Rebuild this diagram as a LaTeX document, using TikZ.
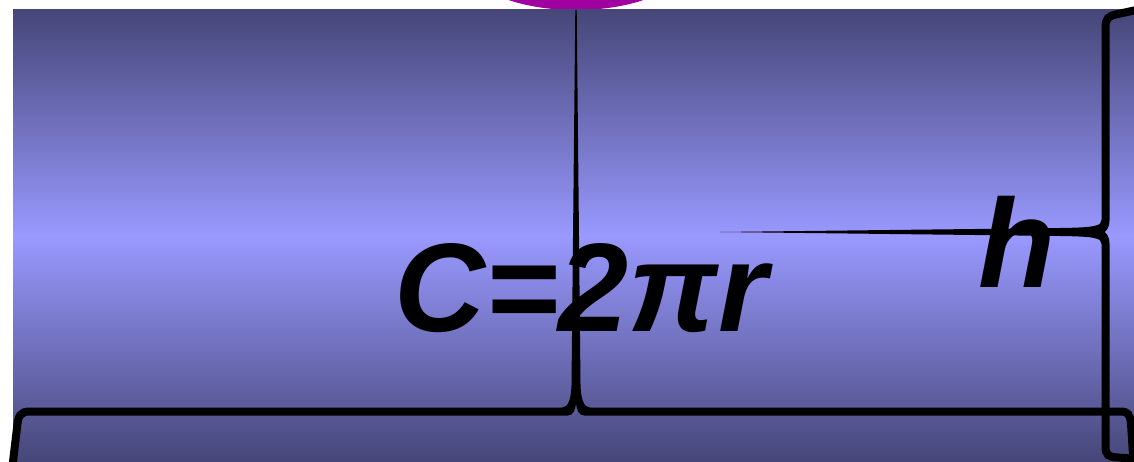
\documentclass[tikz,border=0pt]{standalone}
\usepackage{fontspec}
\setmainfont{Liberation Sans}
\definecolor{dark}{RGB}{70,70,120}
\definecolor{light}{RGB}{153,153,255}
\definecolor{purp}{RGB}{160,0,160}
\tikzset{
  bracestroke/.style={line width=8pt, draw=black},
  bracefill/.style={fill=black, draw=none},
  bigtext/.style={font=\fontsize{126}{126}\selectfont\bfseries\itshape, inner sep=0pt}
}
\begin{document}
\begin{tikzpicture}[x=1pt,y=-1pt]
\useasboundingbox (0,0) rectangle (1134,462);
\clip (0,0) rectangle (1134,462);
\fill[white] (0,0) rectangle (1134,462);
% purple ellipse (top)
\fill[purp] (576,-30) ellipse [x radius=102pt, y radius=40pt];
% unrolled surface
\shade[top color=dark, bottom color=dark, middle color=light] (13,10) rectangle (1150,462);
% bottom brace (circumference)
\draw[bracestroke] (12,470) -- (17,428) .. controls (18,416) and (20,411.5) .. (30,411.5) -- (562,411.5);
\draw[bracestroke] (590,411.5) -- (1120,411.5) .. controls (1128,411.5) and (1130,414) .. (1131,424) -- (1134,470);
\fill[bracefill] (575.3,10) -- (571.5,385) .. controls (571,400) and (568,407.5) .. (562,407.5) -- (562,415.5) -- (568,415.5) .. controls (573,415.5) and (575.5,410) .. (576,403) .. controls (576.5,410) and (579,415.5) .. (584,415.5) -- (590,415.5) -- (590,407.5) .. controls (584,407.5) and (581,400) .. (580.5,385) -- (576.7,10) -- cycle;
% right brace (height)
\draw[bracestroke] (1150,7) -- (1118,14) .. controls (1108,16) and (1105.5,18) .. (1105.5,28) -- (1105.5,220);
\draw[bracestroke] (1105.5,244) -- (1105.5,446) .. controls (1105.5,455) and (1108,457) .. (1118,457.5) -- (1150,460);
\fill[bracefill] (720,232) -- (1060,228) .. controls (1095,227.5) and (1101.5,226) .. (1101.5,220) -- (1109.5,220) .. controls (1109.5,228) and (1106,231) .. (1104.5,232) .. controls (1106,233) and (1109.5,236) .. (1109.5,244) -- (1101.5,244) .. controls (1101.5,238) and (1095,236.5) .. (1060,236) -- cycle;
% labels
\node[bigtext, anchor=base] (circ) at (581,331) {C=2πr};
\node[bigtext, anchor=base] (height) at (1017,287) {h};
\end{tikzpicture}
\end{document}
